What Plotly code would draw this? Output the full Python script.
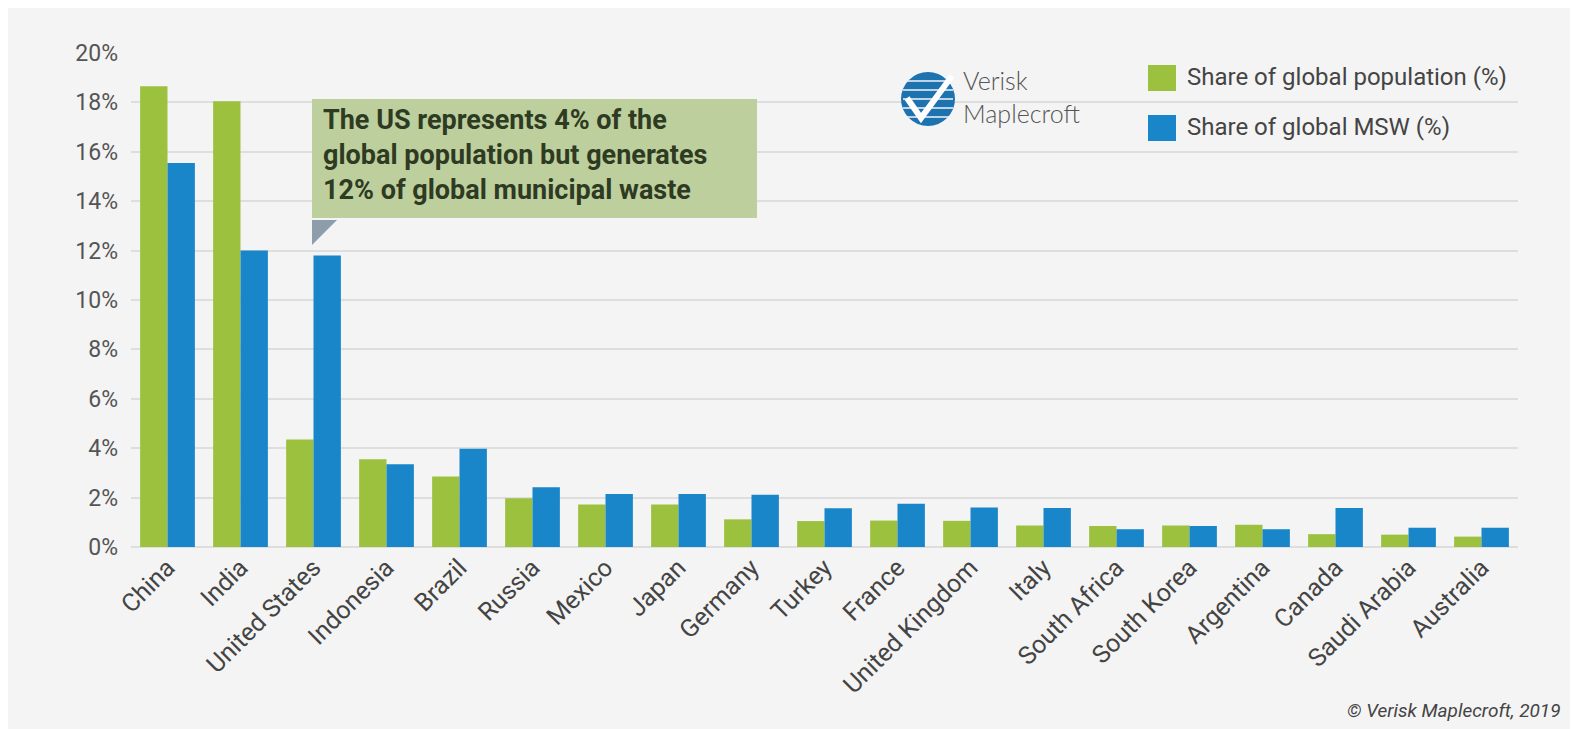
import plotly.graph_objects as go

countries = ["China", "India", "United States", "Indonesia", "Brazil", "Russia", "Mexico",
             "Japan", "Germany", "Turkey", "France", "United Kingdom", "Italy", "South Africa",
             "South Korea", "Argentina", "Canada", "Saudi Arabia", "Australia"]
pop_share = [18.65, 18.05, 4.35, 3.55, 2.85, 1.97, 1.72, 1.72, 1.12, 1.05, 1.07, 1.06, 0.87,
             0.85, 0.87, 0.9, 0.52, 0.5, 0.42]
msw_share = [15.55, 12.0, 11.8, 3.35, 3.98, 2.42, 2.15, 2.15, 2.12, 1.57, 1.75, 1.6, 1.58,
             0.72, 0.85, 0.72, 1.58, 0.78, 0.78]
series_names = ["Share of global population (%)", "Share of global MSW (%)"]
y_ticks = [0, 2, 4, 6, 8, 10, 12, 14, 16, 18, 20]
y_tick_labels = ["0%", "2%", "4%", "6%", "8%", "10%", "12%", "14%", "16%", "18%", "20%"]
callout = "The US represents 4% of the<br>global population but generates<br>12% of global municipal waste"
logo_text = "Verisk<br>Maplecroft"
credit = "© Verisk Maplecroft, 2019"

GREEN = "#9cc13e"
BLUE = "#1886c8"

W_FIG, H_FIG = 1578, 729
L, R, T, B = 123, 1510, 45, 539
PW, PH = R - L, B - T


def px(x):
    return (x - L) / PW


def py(y):
    return (B - y) / PH


fig = go.Figure()
fig.add_trace(go.Bar(x=countries, y=pop_share, name=series_names[0], marker_color=GREEN,
                     marker_line_width=0))
fig.add_trace(go.Bar(x=countries, y=msw_share, name=series_names[1], marker_color=BLUE,
                     marker_line_width=0))

shapes = []
annotations = []

# card shadow edges
shapes.append(dict(type="rect", xref="paper", yref="paper", x0=px(1574), x1=px(1590),
                   y0=py(-10), y1=py(740), fillcolor="#ffffff", line_width=0, layer="below"))
shapes.append(dict(type="rect", xref="paper", yref="paper", x0=px(-10), x1=px(1590),
                   y0=py(725), y1=py(740), fillcolor="#ffffff", line_width=0, layer="below"))
shapes.append(dict(type="line", xref="paper", yref="paper", x0=px(1573), x1=px(1573),
                   y0=py(4), y1=py(724), line=dict(color="#8e8e8e", width=3)))
shapes.append(dict(type="line", xref="paper", yref="paper", x0=px(8), x1=px(1573),
                   y0=py(723), y1=py(723), line=dict(color="#8e8e8e", width=3)))

# callout box
bx0, bx1, by0, by1 = 304, 749, 91, 210
shapes.append(dict(type="rect", xref="paper", yref="paper", x0=px(bx0), x1=px(bx1),
                   y0=py(by1), y1=py(by0), fillcolor="#bdcf9d", line_width=0, layer="above"))
shapes.append(dict(type="path", xref="paper", yref="paper",
                   path="M {a},{b} L {c},{b} L {a},{d} Z".format(a=px(bx0), b=py(by1 + 2), c=px(bx0 + 25),
                                                                d=py(by1 + 27)),
                   fillcolor="#8d9dab", line_width=0, layer="above"))
annotations.append(dict(xref="paper", yref="paper", x=px(bx0 + 9), y=py(147), xanchor="left",
                        yanchor="middle", align="left", showarrow=False, text="<b>" + callout + "</b>",
                        font=dict(family="Roboto", size=27, color="#2e3b22")))

# legend (manual)
for i, (nm, col) in enumerate(zip(series_names, [GREEN, BLUE])):
    y0 = 57 + i * 50
    shapes.append(dict(type="rect", xref="paper", yref="paper", x0=px(1140), x1=px(1168),
                       y0=py(y0 + 26), y1=py(y0), fillcolor=col, line_width=0, layer="above"))
    annotations.append(dict(xref="paper", yref="paper", x=px(1177), y=py(y0 + 12), xanchor="left",
                            yanchor="middle", showarrow=False, text=nm,
                            font=dict(family="Roboto", size=24, color="#444444")))

# logo
cx, cy, r = 920, 91, 27
shapes.append(dict(type="circle", xref="paper", yref="paper", x0=px(cx - r), x1=px(cx + r),
                   y0=py(cy + r), y1=py(cy - r), fillcolor="#1d72b0", line_width=0, layer="above"))
for yy in [cy - 18, cy - 9, cy, cy + 9, cy + 18]:
    shapes.append(dict(type="line", xref="paper", yref="paper", x0=px(cx - r + 2), x1=px(cx + r - 2),
                       y0=py(yy), y1=py(yy), line=dict(color="#f4f4f4", width=1.5), layer="above"))
shapes.append(dict(type="path", xref="paper", yref="paper",
                   path="M {},{} L {},{} L {},{}".format(px(cx - 21), py(cy - 1), px(cx - 7), py(cy + 19),
                                                          px(cx + 24), py(cy - 23)),
                   line=dict(color="#ffffff", width=6), layer="above"))
annotations.append(dict(xref="paper", yref="paper", x=px(953), y=py(89), xanchor="left", yanchor="middle",
                        align="left", showarrow=False, text=logo_text,
                        font=dict(family="Lato", size=25, color="#555555", weight=300)))

# credit
annotations.append(dict(xref="paper", yref="paper", x=px(1555), y=py(702), xanchor="right", yanchor="middle",
                        showarrow=False, text="<i>" + credit + "</i>",
                        font=dict(family="Roboto", size=19, color="#444444")))

fig.update_layout(
    width=W_FIG, height=H_FIG,
    margin=dict(l=L, r=W_FIG - R, t=T, b=H_FIG - B, pad=0),
    paper_bgcolor="#f4f4f4", plot_bgcolor="#f4f4f4",
    barmode="group", bargap=0.25, bargroupgap=0,
    showlegend=False,
    shapes=shapes, annotations=annotations,
    font=dict(family="Roboto", color="#444444"),
)
fig.update_xaxes(type="category", tickangle=-45, showgrid=False, showline=False, ticks="",
                 tickfont=dict(family="Roboto", size=25, color="#444444"), range=[-0.5, 18.5])
fig.update_yaxes(range=[0, 20], tickvals=y_ticks, ticktext=y_tick_labels, showgrid=True,
                 gridcolor="#dedede", gridwidth=2, zeroline=True, zerolinecolor="#dedede",
                 zerolinewidth=2, ticks="", ticklabelstandoff=12,
                 tickfont=dict(family="Roboto", size=23, color="#555555"))

fig.write_html("out.html")
